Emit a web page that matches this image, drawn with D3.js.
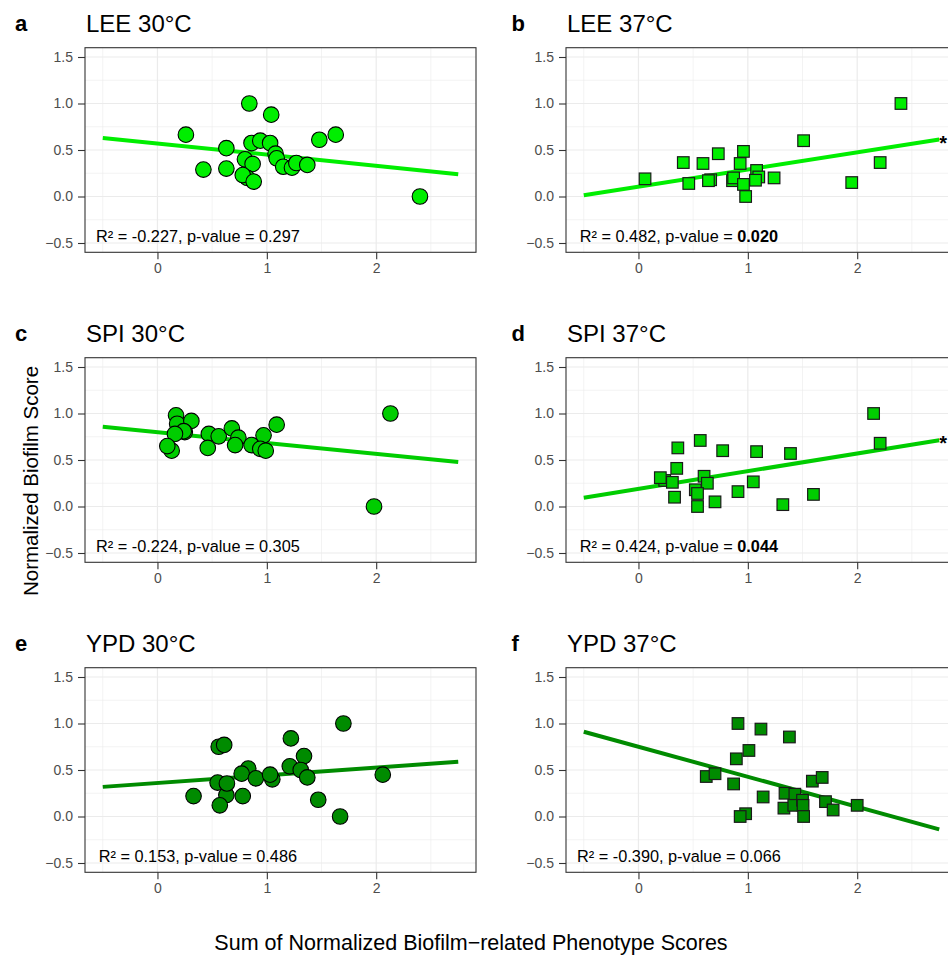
<!DOCTYPE html>
<html>
<head>
<meta charset="utf-8">
<script src="https://cdn.jsdelivr.net/npm/d3@7"></script>
<style>
  html, body { margin: 0; padding: 0; background: #fff; }
  svg { display: block; font-family: "Liberation Sans", Arial, Helvetica, sans-serif; }
</style>
</head>
<body>
<svg id="chart" width="948" height="960"></svg>
<script>
// ---------------- DATA ----------------
const panelLetters = ["a", "b", "c", "d", "e", "f"];
const panelTitles = ["LEE 30°C", "LEE 37°C", "SPI 30°C", "SPI 37°C", "YPD 30°C", "YPD 37°C"];
const panelShapes = ["circle", "square", "circle", "square", "circle", "square"];
const panelColors = ["#00EE00", "#00EE00", "#00CD00", "#00CD00", "#008B00", "#008B00"];

const xTicks = [0, 1, 2];
const xMinor = [-0.5, 0.5, 1.5, 2.5];
const yTicks = [-0.5, 0.0, 0.5, 1.0, 1.5];
const yTickLabels = ["\u22120.5", "0.0", "0.5", "1.0", "1.5"];
const yMinor = [-0.25, 0.25, 0.75, 1.25];

// LEE 30°C
const leeX30 = [0.26, 0.42, 0.63, 0.63, 0.84, 1.04, 0.80, 0.86, 0.94, 1.03, 0.87, 0.82, 0.78, 0.88, 1.08, 1.09, 1.15, 1.23, 1.27, 1.37, 1.48, 1.63, 2.40];
const leeY30 = [0.665, 0.29, 0.52, 0.30, 1.00, 0.88, 0.40, 0.575, 0.60, 0.575, 0.35, 0.20, 0.23, 0.16, 0.46, 0.41, 0.32, 0.31, 0.36, 0.34, 0.61, 0.665, 0.00];
// LEE 37°C
const leeX37 = [0.06, 0.41, 0.46, 0.59, 0.73, 0.66, 0.64, 0.96, 0.93, 0.86, 0.87, 0.96, 0.98, 1.08, 1.10, 1.07, 1.24, 1.51, 1.95, 2.21, 2.40];
const leeY37 = [0.19, 0.365, 0.14, 0.355, 0.46, 0.18, 0.17, 0.485, 0.355, 0.17, 0.20, 0.13, 0.00, 0.28, 0.21, 0.175, 0.20, 0.60, 0.15, 0.365, 1.00];
// SPI 30°C
const spiX30 = [0.17, 0.18, 0.31, 0.25, 0.24, 0.16, 0.13, 0.09, 0.47, 0.46, 0.56, 0.68, 0.74, 0.71, 0.86, 0.97, 0.94, 0.99, 1.09, 2.13, 1.98];
const spiY30 = [0.98, 0.89, 0.92, 0.80, 0.81, 0.78, 0.60, 0.65, 0.78, 0.63, 0.755, 0.84, 0.74, 0.66, 0.66, 0.765, 0.62, 0.60, 0.88, 1.00, 0.00];
// SPI 37°C
const spiX37 = [2.15, 2.21, 0.36, 0.565, 0.77, 1.08, 1.39, 0.35, 0.24, 0.20, 0.31, 0.60, 0.63, 0.52, 0.54, 0.33, 0.54, 0.70, 0.91, 1.05, 1.32, 1.60];
const spiY37 = [1.00, 0.68, 0.63, 0.71, 0.60, 0.59, 0.57, 0.41, 0.28, 0.31, 0.26, 0.325, 0.25, 0.18, 0.14, 0.10, 0.00, 0.05, 0.16, 0.265, 0.02, 0.13];
// YPD 30°C
const ypdX30 = [0.33, 0.56, 0.61, 0.55, 0.63, 0.57, 0.635, 0.78, 0.83, 0.77, 0.90, 1.05, 1.03, 1.22, 1.21, 1.34, 1.31, 1.37, 1.47, 1.70, 1.67, 2.06];
const ypdY30 = [0.22, 0.75, 0.77, 0.365, 0.23, 0.12, 0.355, 0.22, 0.515, 0.46, 0.41, 0.40, 0.45, 0.84, 0.54, 0.65, 0.50, 0.42, 0.18, 1.00, 0.00, 0.45];
// YPD 37°C
const ypdX37 = [0.91, 1.12, 1.38, 1.01, 0.895, 0.62, 0.70, 0.87, 1.14, 0.98, 0.93, 1.34, 1.33, 1.43, 1.42, 1.50, 1.505, 1.51, 1.59, 1.68, 1.71, 1.78, 2.00];
const ypdY37 = [1.00, 0.94, 0.855, 0.71, 0.62, 0.43, 0.46, 0.35, 0.21, 0.03, 0.00, 0.25, 0.09, 0.24, 0.12, 0.175, 0.12, 0.00, 0.38, 0.42, 0.16, 0.07, 0.12];

const panelX = [leeX30, leeX37, spiX30, spiX37, ypdX30, ypdX37];
const panelY = [leeY30, leeY37, spiY30, spiY37, ypdY30, ypdY37];

// fitted regression lines: intercept and slope
const fitIntercept = [0.57, 0.106, 0.80, 0.19, 0.36, 0.75];
const fitSlope = [-0.12, 0.184, -0.117, 0.19, 0.083, -0.323];
const fitRange = [-0.5, 2.75];

const r2Labels = ["R\u00B2 = -0.227, p-value = ", "R\u00B2 = 0.482, p-value = ", "R\u00B2 = -0.224, p-value = ",
                  "R\u00B2 = 0.424, p-value = ", "R\u00B2 = 0.153, p-value = ", "R\u00B2 = -0.390, p-value = "];
const pValues = ["0.297", "0.020", "0.305", "0.044", "0.486", "0.066"];
const pSignificant = [false, true, false, true, false, false];
const annotX = 0.37, annotY = -0.49;

const xTitle = "Sum of Normalized Biofilm\u2212related Phenotype Scores";
const yTitle = "Normalized Biofilm Score";

// ---------------- LAYOUT ----------------
const svg = d3.select("#chart");
svg.append("rect").attr("width", 948).attr("height", 960).attr("fill", "#fff");

const colLeft = [85, 566];
const rowTop = [47.7, 357.7, 667.7];
const panelW = 391, panelH = 204.6;
const xDomain = [-0.6625, 2.9125];
const yDomain = [-0.6, 1.6];
const font = '"Liberation Sans", Arial, Helvetica, sans-serif';

panelLetters.forEach((letter, i) => {
  const col = i % 2, row = Math.floor(i / 2);
  const left = colLeft[col], top = rowTop[row];
  const g = svg.append("g").attr("transform", `translate(${left},${top})`);
  const x = d3.scaleLinear().domain(xDomain).range([0, panelW]);
  const y = d3.scaleLinear().domain(yDomain).range([panelH, 0]);

  // panel letter and title
  svg.append("text").attr("x", col === 0 ? 15 : 511.5).attr("y", top - 16.5)
    .style("font-size", "22px").attr("font-weight", "bold").attr("fill", "#000").text(letter);
  svg.append("text").attr("x", left + 1).attr("y", top - 15.3)
    .style("font-size", "24px").attr("fill", "#000").text(panelTitles[i]);

  // clip
  const clipId = "clip" + i;
  g.append("clipPath").attr("id", clipId).append("rect")
    .attr("width", panelW).attr("height", panelH);
  const inner = g.append("g").attr("clip-path", `url(#${clipId})`);

  // grid
  inner.selectAll(".xmin").data(xMinor).join("line")
    .attr("x1", d => x(d)).attr("x2", d => x(d)).attr("y1", 0).attr("y2", panelH)
    .attr("stroke", "#EBEBEB").attr("stroke-width", 0.6);
  inner.selectAll(".ymin").data(yMinor).join("line")
    .attr("y1", d => y(d)).attr("y2", d => y(d)).attr("x1", 0).attr("x2", panelW)
    .attr("stroke", "#EBEBEB").attr("stroke-width", 0.6);
  inner.selectAll(".xmaj").data(xTicks).join("line")
    .attr("x1", d => x(d)).attr("x2", d => x(d)).attr("y1", 0).attr("y2", panelH)
    .attr("stroke", "#EBEBEB").attr("stroke-width", 1.2);
  inner.selectAll(".ymaj").data(yTicks).join("line")
    .attr("y1", d => y(d)).attr("y2", d => y(d)).attr("x1", 0).attr("x2", panelW)
    .attr("stroke", "#EBEBEB").attr("stroke-width", 1.2);

  // regression line
  const color = panelColors[i];
  inner.append("line")
    .attr("x1", x(fitRange[0])).attr("y1", y(fitIntercept[i] + fitSlope[i] * fitRange[0]))
    .attr("x2", x(fitRange[1])).attr("y2", y(fitIntercept[i] + fitSlope[i] * fitRange[1]))
    .attr("stroke", color).attr("stroke-width", 4);

  // points
  const pts = panelX[i].map((v, k) => ({ x: v, y: panelY[i][k] }));
  if (panelShapes[i] === "circle") {
    inner.selectAll(".pt").data(pts).join("circle")
      .attr("cx", d => x(d.x)).attr("cy", d => y(d.y)).attr("r", 7.8)
      .attr("fill", color).attr("stroke", "#000").attr("stroke-width", 1.1);
  } else {
    const s = 11.6;
    inner.selectAll(".pt").data(pts).join("rect")
      .attr("x", d => x(d.x) - s / 2).attr("y", d => y(d.y) - s / 2)
      .attr("width", s).attr("height", s)
      .attr("fill", color).attr("stroke", "#1a1a1a").attr("stroke-width", 1.2);
  }

  // annotation
  const t = g.append("text").attr("x", x(annotX)).attr("y", y(annotY))
    .attr("text-anchor", "middle").style("font-size", "16.3px").attr("fill", "#000");
  t.append("tspan").text(r2Labels[i]);
  t.append("tspan").attr("font-weight", pSignificant[i] ? "bold" : "normal").text(pValues[i]);

  // significance star (kept fully inside the page)
  if (pSignificant[i]) {
    const yEnd = fitIntercept[i] + fitSlope[i] * fitRange[1];
    g.append("text").attr("x", 947 - left).attr("y", y(yEnd) + 10)
      .attr("text-anchor", "end").style("font-size", "20px").attr("font-weight", "bold")
      .attr("fill", "#000").text("*");
  }

  // border
  g.append("rect").attr("width", panelW).attr("height", panelH)
    .attr("fill", "none").attr("stroke", "#333333").attr("stroke-width", 1.1);

  // axes
  const yAxis = d3.axisLeft(y).tickValues(yTicks).tickSize(7).tickPadding(5)
    .tickFormat((d, k) => yTickLabels[k]);
  const ya = g.append("g").call(yAxis);
  const xAxis = d3.axisBottom(x).tickValues(xTicks).tickSize(7).tickPadding(4)
    .tickFormat(d3.format("d"));
  const xa = g.append("g").attr("transform", `translate(0,${panelH})`).call(xAxis);
  [ya, xa].forEach(a => {
    a.attr("font-size", null).attr("font-family", null);
    a.select(".domain").remove();
    a.selectAll(".tick line").attr("stroke", "#333333").attr("stroke-width", 1.1);
    a.selectAll(".tick text").attr("fill", "#4D4D4D")
      .style("font-size", "14px").style("font-family", font);
  });
});

// axis titles
svg.append("text").attr("x", 471).attr("y", 950).attr("text-anchor", "middle")
  .style("font-size", "21.5px").attr("fill", "#000").text(xTitle);
svg.append("text").attr("transform", "translate(38,481) rotate(-90)")
  .attr("text-anchor", "middle").style("font-size", "20.5px").attr("fill", "#000").text(yTitle);
</script>
</body>
</html>
